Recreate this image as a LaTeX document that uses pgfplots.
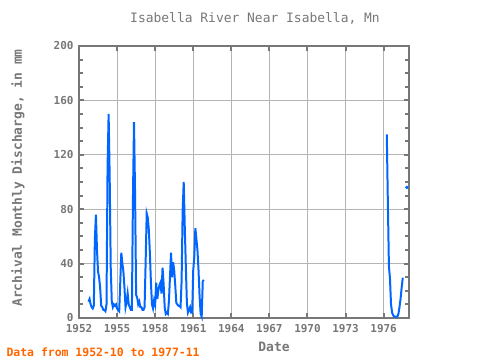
\documentclass[border=0pt]{standalone}
\usepackage{pgfplots}
\pgfplotsset{compat=1.18}
\usepackage{fontspec}
\setmainfont{DejaVu Sans Mono}
\definecolor{fr}{HTML}{777777}
\definecolor{gr}{HTML}{B4B4B4}
\definecolor{ln}{HTML}{0066FF}
\definecolor{org}{HTML}{FF6600}
\begin{document}
\begin{tikzpicture}[x=1bp,y=1bp]
\path[use as bounding box] (0,0) rectangle (480,360);
\begin{axis}[at={(79bp,42bp)}, anchor=south west, width=330bp, height=272bp, scale only axis,
  xmin=1952, xmax=1978, ymin=0, ymax=200,
  xtick={1952,1955,...,1976}, minor x tick num=2,
  ytick={0,40,...,200}, minor y tick num=3,
  xmajorgrids, xminorgrids, ymajorgrids,
  grid style={gr, line width=0.8pt}, minor grid style={gr, line width=0.8pt},
  axis line style={fr, line width=2pt},
  tick align=inside, tick style={fr, line width=2pt}, major tick length=5bp, minor tick length=4bp,
  xtick pos=both, ytick pos=both,
  /pgf/number format/assume math mode=true,
  /pgf/number format/1000 sep={},
  ticklabel style={font=\fontsize{11}{12}\selectfont\bfseries, text=fr},
  xticklabel style={yshift=-3bp},
  yticklabel style={xshift=-2bp},
  clip=false,
]
\addplot[ln, line width=2pt] coordinates {
(1952.750,12)(1952.833,14)(1952.917,10)
(1953.000,8)(1953.083,7)(1953.167,9)(1953.250,58)(1953.333,76)(1953.417,50)(1953.500,34)(1953.583,30)(1953.667,22)(1953.750,9)(1953.833,8)(1953.917,6)
(1954.000,6)(1954.083,5)(1954.167,10)(1954.250,111)(1954.333,150)(1954.417,104)(1954.500,37)(1954.583,12)(1954.667,8)(1954.750,10)(1954.833,9)(1954.917,10)
(1955.000,7)(1955.083,6)(1955.167,5)(1955.250,26)(1955.333,48)(1955.417,40)(1955.500,34)(1955.583,22)(1955.667,8)(1955.750,12)(1955.833,18)(1955.917,10)
(1956.000,8)(1956.083,6)(1956.167,6)(1956.250,88)(1956.333,144)(1956.417,92)(1956.500,17)(1956.583,15)(1956.667,10)(1956.750,12)(1956.833,8)(1956.917,8)
(1957.000,6)(1957.083,6)(1957.167,8)(1957.250,41)(1957.333,77)(1957.417,74)(1957.500,65)(1957.583,48)(1957.667,26)(1957.750,10)(1957.833,7)(1957.917,13)
(1958.000,10)(1958.083,26)(1958.167,14)(1958.250,20)(1958.333,24)(1958.417,26)(1958.500,18)(1958.583,37)(1958.667,25)(1958.750,8)(1958.833,3)(1958.917,4)
(1959.000,3)(1959.083,12)(1959.167,30)(1959.250,48)(1959.333,30)(1959.417,41)(1959.500,35)(1959.583,24)(1959.667,11)(1959.750,10)(1959.833,9)(1959.917,9)
(1960.000,8)(1960.083,27)(1960.167,79)(1960.250,100)(1960.333,67)(1960.417,38)(1960.500,11)(1960.583,4)(1960.667,6)(1960.750,8)(1960.833,4)(1960.917,4)
(1961.000,35)(1961.083,45)(1961.167,66)(1961.250,58)(1961.333,50)(1961.417,35)(1961.500,16)(1961.583,3)(1961.667,1)(1961.750,27)(1961.833,28)
};
\addplot[ln, line width=2pt] coordinates {
(1976.250,135)(1976.333,85)(1976.417,38)(1976.500,29)(1976.583,10)(1976.667,4)(1976.750,2)(1976.833,1)(1976.917,1)
(1977.000,1)(1977.083,1)(1977.167,3)(1977.250,8)(1977.333,14)(1977.417,22)(1977.500,29)(1977.583,29)
};
\addplot[ln, only marks, mark=*, mark size=1.6pt] coordinates {(1977.833,96)};
\end{axis}
\node[text=fr, font=\fontsize{13}{14}\selectfont] at (255,342) {Isabella River Near Isabella, Mn};
\node[text=fr, font=\fontsize{13}{14}\selectfont\bfseries, rotate=90] at (18,182) {Archival Monthly Discharge, in mm};
\node[text=fr, font=\fontsize{13}{14}\selectfont\bfseries] at (274,13) {Date};
\node[text=org, font=\fontsize{11.5}{12}\selectfont\bfseries, anchor=west] at (3,8) {Data from 1952-10 to 1977-11};
\end{tikzpicture}
\end{document}
